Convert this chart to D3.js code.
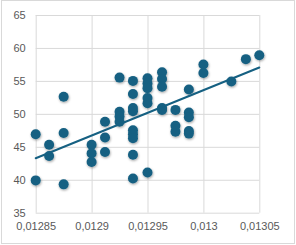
<!DOCTYPE html>
<html>
<head>
<meta charset="utf-8">
<script src="https://cdn.jsdelivr.net/npm/d3@7"></script>
<style>
  html, body { margin: 0; padding: 0; background: #fff; }
  svg { display: block; }
</style>
</head>
<body>
<script>
// ---- data ----
const xValues = [
  0.01285, 0.01285,
  0.012862, 0.012862,
  0.012875, 0.012875, 0.012875,
  0.0129, 0.0129, 0.0129,
  0.012912, 0.012912, 0.012912,
  0.012925, 0.012925, 0.012925, 0.012925,
  0.012937, 0.012937, 0.012937, 0.012937, 0.012937, 0.012937, 0.012937, 0.012937, 0.012937,
  0.01295, 0.01295, 0.01295, 0.01295, 0.01295, 0.01295,
  0.012963, 0.012963, 0.012963, 0.012963, 0.012963,
  0.012975, 0.012975, 0.012975,
  0.012987, 0.012987, 0.012987, 0.012987, 0.012987,
  0.0130, 0.0130,
  0.013025,
  0.013038,
  0.01305
];
const yValues = [
  46.9, 39.9,
  45.3, 43.6,
  52.6, 47.1, 39.3,
  45.3, 44.0, 42.7,
  48.8, 46.4, 44.2,
  55.5, 50.3, 49.6, 48.8,
  55.0, 53.0, 50.9, 50.4, 47.5, 46.9, 46.3, 43.8, 40.2,
  55.4, 54.6, 53.9, 52.4, 51.6, 41.1,
  56.3, 55.3, 54.1, 50.9, 50.6,
  50.6, 48.2, 47.3,
  53.7, 50.2, 49.5, 47.4, 47.0,
  57.5, 56.2,
  54.9,
  58.3,
  58.9
];
const xTicks = [0.01285, 0.0129, 0.01295, 0.013, 0.01305];
const yTicks = [35, 40, 45, 50, 55, 60, 65];
const xDomain = [0.01285, 0.01305];
const yDomain = [35, 65];

// ---- layout ----
const W = 296, H = 245;
const plot = { left: 35.7, right: 259.3, top: 15, bottom: 212.7 };
const color = "#156082";
const gridColor = "#d9d9d9";
const textColor = "#595959";

const svg = d3.select("body").append("svg").attr("width", W).attr("height", H);

// chart border
svg.append("rect")
  .attr("x", 1.5).attr("y", 0.5).attr("width", 293).attr("height", 243)
  .attr("fill", "#fff").attr("stroke", gridColor).attr("stroke-width", 1);

const defs = svg.append("defs");
const f = defs.append("filter").attr("id", "shadow")
  .attr("x", "-50%").attr("y", "-50%").attr("width", "200%").attr("height", "200%");
f.append("feDropShadow").attr("dx", 0.6).attr("dy", 1.2).attr("stdDeviation", 1)
  .attr("flood-color", "#000").attr("flood-opacity", 0.35);

const x = d3.scaleLinear().domain(xDomain).range([plot.left, plot.right]);
const y = d3.scaleLinear().domain(yDomain).range([plot.bottom, plot.top]);

const fmt = v => String(+v.toPrecision(6)).replace(".", ",");

// vertical grid + x labels
const xAxis = d3.axisBottom(x).tickValues(xTicks).tickSize(-(plot.bottom - plot.top))
  .tickPadding(10).tickFormat(fmt);
const gx = svg.append("g").attr("transform", `translate(0,${plot.bottom})`).call(xAxis);
gx.select(".domain").remove();
gx.selectAll("line").attr("stroke", gridColor).attr("stroke-width", 1);
gx.selectAll("text").attr("fill", textColor)
  .style("font-family", "'Liberation Sans', Arial, sans-serif").style("font-size", "11px");

// horizontal grid + y labels
const yAxis = d3.axisLeft(y).tickValues(yTicks).tickSize(-(plot.right - plot.left))
  .tickPadding(10).tickFormat(d => d);
const gy = svg.append("g").attr("transform", `translate(${plot.left},0)`).call(yAxis);
gy.select(".domain").remove();
gy.selectAll("line").attr("stroke", gridColor).attr("stroke-width", 1);
gy.selectAll("text").attr("fill", textColor)
  .style("font-family", "'Liberation Sans', Arial, sans-serif").style("font-size", "11px");

// points
const pts = xValues.map((v, i) => ({ x: v, y: yValues[i] }));
svg.append("g").attr("filter", "url(#shadow)")
  .selectAll("circle").data(pts).join("circle")
  .attr("cx", d => x(d.x)).attr("cy", d => y(d.y)).attr("r", 5)
  .attr("fill", color);

// linear trendline (least squares)
const mx = d3.mean(pts, d => d.x), my = d3.mean(pts, d => d.y);
const slope = d3.sum(pts, d => (d.x - mx) * (d.y - my)) / d3.sum(pts, d => (d.x - mx) ** 2);
const icpt = my - slope * mx;
const xs = d3.extent(xValues);
svg.append("line")
  .attr("x1", x(xs[0])).attr("y1", y(icpt + slope * xs[0]))
  .attr("x2", x(xs[1])).attr("y2", y(icpt + slope * xs[1]))
  .attr("stroke", color).attr("stroke-width", 2).attr("stroke-linecap", "round");
</script>
</body>
</html>
